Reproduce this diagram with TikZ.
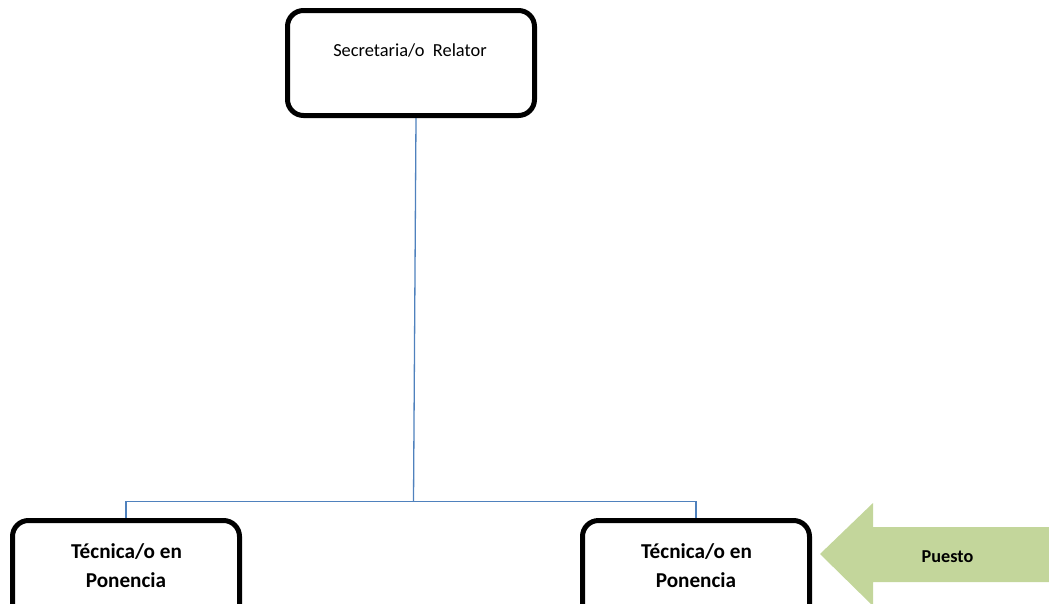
\documentclass[tikz,border=0pt]{standalone}
\usepackage{fontspec}
\setmainfont{Carlito}
\usetikzlibrary{backgrounds}
\definecolor{arrowgreen}{HTML}{C3D69B}
\definecolor{connblue}{HTML}{4F81BD}
\begin{document}
\begin{tikzpicture}[x=1pt,y=-1pt,
  box/.style={draw=black, line width=5pt, rounded corners=16pt, fill=white,
    minimum width=227pt, minimum height=105pt, inner sep=0pt},
  conn/.style={draw=connblue, line width=1.3pt},
  toptext/.style={font=\fontsize{18.4pt}{22pt}\selectfont, anchor=base, inner sep=0pt},
  boldtext/.style={font=\fontsize{21.2pt}{26pt}\selectfont\bfseries, anchor=base, inner sep=0pt},
  arrowtext/.style={font=\fontsize{18.2pt}{22pt}\selectfont\bfseries, anchor=base, inner sep=0pt}]
\useasboundingbox (0,0) rectangle (1049,603);
\clip (0,0) rectangle (1049,603);
% boxes
\node[box, minimum width=247pt] (top) at (411,63) {};
\node[box] (left) at (126,573) {};
\node[box] (right) at (696,573) {};
% texts
\node[toptext] (toptxt) at (410,56) {Secretaria/o\ \ Relator};
\node[boldtext] (l1) at (126.5,558) {Técnica/o en};
\node[boldtext] (l2) at (126,587) {Ponencia};
\node[boldtext] (r1) at (696.5,558) {Técnica/o en};
\node[boldtext] (r2) at (696,587) {Ponencia};
% arrow
\fill[arrowgreen] (820,554) -- (873,503) -- (873,527) -- (1055,527) -- (1055,582) -- (873,582) -- (873,606) -- cycle;
\node[arrowtext] (puesto) at (947.5,562) {Puesto};
% connectors
\coordinate (junc) at (413.5,501.5);
\begin{scope}[on background layer]
\draw[conn] ([xshift=5pt]top.south) -- (junc);
\draw[conn] (left.north) |- (junc) -| (right.north);
\end{scope}
\end{tikzpicture}
\end{document}
